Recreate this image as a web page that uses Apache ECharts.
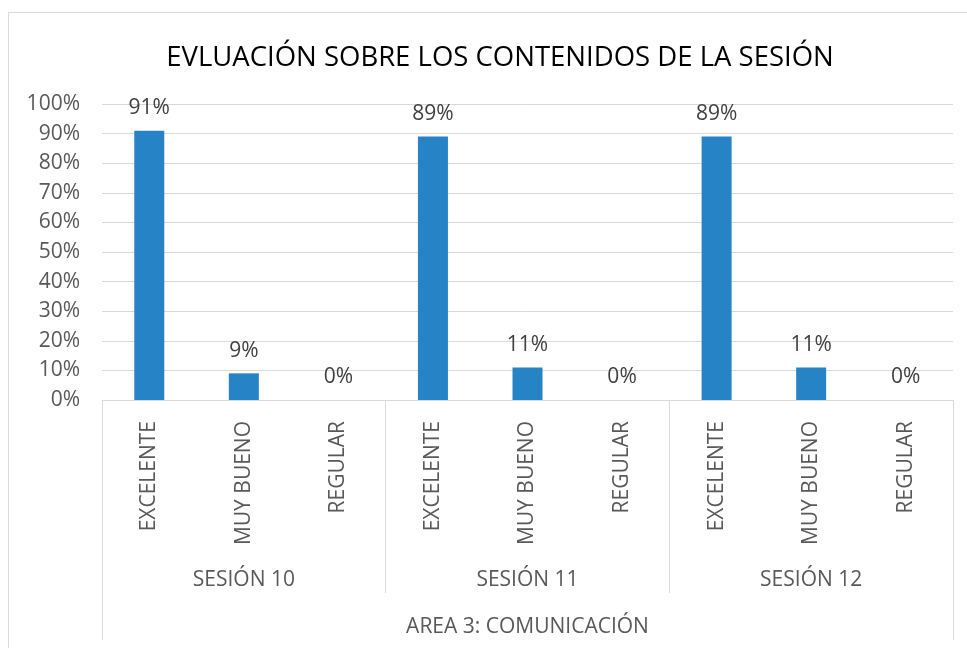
<!DOCTYPE html>
<html>
<head>
<meta charset="utf-8">
<script src="https://cdn.jsdelivr.net/npm/echarts@6/dist/echarts.min.js"></script>
<style>
  html, body { margin: 0; padding: 0; background: #fff; }
  #chart { width: 967px; height: 648px; }
</style>
</head>
<body>
<div id="chart"></div>
<script>
// datos del gráfico
var categorias = ["EXCELENTE", "MUY BUENO", "REGULAR", "EXCELENTE", "MUY BUENO", "REGULAR", "EXCELENTE", "MUY BUENO", "REGULAR"];
var sesiones = ["SESIÓN 10", "SESIÓN 11", "SESIÓN 12"];
var area = ["AREA 3: COMUNICACIÓN"];
var porcentajes = [91, 9, 0, 89, 11, 0, 89, 11, 0];
var titulo = "EVLUACIÓN SOBRE LOS CONTENIDOS DE LA SESIÓN";

var fuente = "Open Sans";
var chart = echarts.init(document.getElementById("chart"));
chart.setOption({
  animation: false,
  textStyle: { fontFamily: fuente },
  title: {
    text: titulo,
    left: 495,
    top: 39,
    textAlign: "center",
    textStyle: { fontFamily: fuente, fontSize: 27.5, fontWeight: "normal", color: "#000" }
  },
  graphic: [
    {
      // marco exterior
      type: "rect",
      shape: { x: 8.5, y: 12.5, width: 980, height: 660 },
      style: { fill: null, stroke: "#d9d9d9", lineWidth: 1 },
      silent: true
    }
  ],
  grid: {
    left: 102,
    right: 14,
    top: 104,
    bottom: 248,
    outerBoundsMode: "none",
    containLabel: false
  },
  xAxis: [
    {
      type: "category",
      data: categorias,
      axisLine: { show: true, lineStyle: { color: "#d9d9d9", width: 1 } },
      axisTick: { show: false },
      axisLabel: {
        interval: 0,
        rotate: 90,
        margin: 21,
        fontSize: 21,
        color: "#595959"
      }
    },
    {
      // separadores y nombres de sesión
      type: "category",
      data: sesiones,
      position: "bottom",
      axisLine: { show: false },
      axisTick: { show: true, length: 193, lineStyle: { color: "#d9d9d9", width: 1 } },
      axisLabel: { interval: 0, margin: 170, fontSize: 21, color: "#595959" }
    },
    {
      type: "category",
      data: area,
      position: "bottom",
      axisLine: { show: false },
      axisTick: { show: true, length: 240, lineStyle: { color: "#d9d9d9", width: 1 } },
      axisLabel: { interval: 0, margin: 217, fontSize: 21, color: "#595959" }
    }
  ],
  yAxis: {
    type: "value",
    min: 0,
    max: 100,
    interval: 10,
    axisLine: { show: false },
    axisTick: { show: false },
    axisLabel: {
      formatter: "{value}%",
      margin: 22,
      fontSize: 21,
      color: "#595959"
    },
    splitLine: { lineStyle: { color: "#d9d9d9", width: 1 } }
  },
  series: [
    {
      type: "bar",
      data: porcentajes,
      barWidth: 30,
      itemStyle: { color: "#2683c6" },
      label: {
        show: true,
        position: "top",
        distance: 12,
        formatter: "{c}%",
        fontSize: 21,
        color: "#404040"
      }
    }
  ]
});
</script>
</body>
</html>
